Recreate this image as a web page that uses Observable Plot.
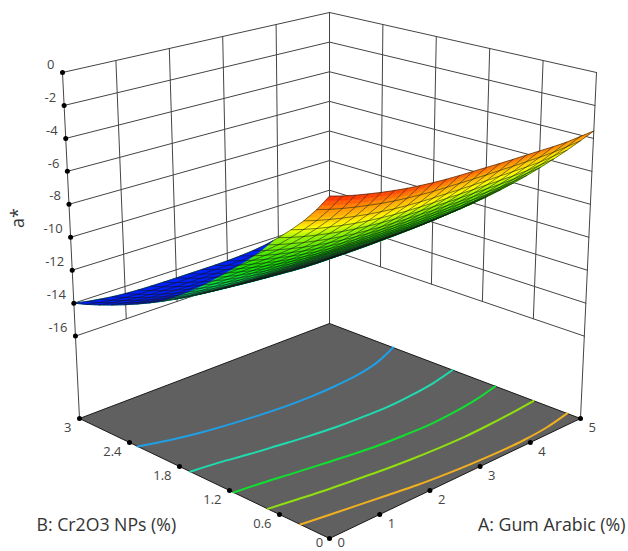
<!DOCTYPE html>
<html><head><meta charset="utf-8">
<script src="https://cdn.jsdelivr.net/npm/d3@7"></script>
<script src="https://cdn.jsdelivr.net/npm/@observablehq/plot@0.6"></script>
<style>html,body{margin:0;padding:0;background:#fff}svg{display:block}</style>
</head><body><div id="c"></div><script>
const aTicks=[0,1,2,3,4,5], bTicks=[0,0.6,1.2,1.8,2.4,3], zTicks=[0,-2,-4,-6,-8,-10,-12,-14,-16];
// a*: rows B = 0, 0.15 … 3; columns A = 0, 0.25 … 5
const zGrid=[
[-6.00,-5.99,-5.97,-5.95,-5.93,-5.90,-5.87,-5.83,-5.79,-5.73,-5.66,-5.57,-5.46,-5.32,-5.16,-4.97,-4.75,-4.50,-4.22,-3.90,-3.55],
[-6.50,-6.50,-6.49,-6.47,-6.46,-6.43,-6.40,-6.36,-6.33,-6.27,-6.20,-6.12,-6.01,-5.88,-5.72,-5.54,-5.32,-5.07,-4.78,-4.46,-4.09],
[-7.00,-7.01,-7.00,-6.99,-6.98,-6.96,-6.93,-6.90,-6.86,-6.81,-6.75,-6.66,-6.56,-6.43,-6.28,-6.10,-5.88,-5.63,-5.35,-5.01,-4.64],
[-7.45,-7.46,-7.47,-7.46,-7.46,-7.44,-7.41,-7.38,-7.35,-7.30,-7.24,-7.16,-7.06,-6.94,-6.79,-6.62,-6.40,-6.15,-5.86,-5.52,-5.13],
[-7.88,-7.90,-7.91,-7.91,-7.91,-7.90,-7.88,-7.85,-7.81,-7.77,-7.71,-7.64,-7.55,-7.43,-7.28,-7.11,-6.90,-6.65,-6.36,-6.01,-5.60],
[-8.32,-8.35,-8.37,-8.38,-8.38,-8.37,-8.35,-8.32,-8.29,-8.25,-8.19,-8.13,-8.04,-7.92,-7.79,-7.62,-7.40,-7.15,-6.86,-6.51,-6.08],
[-8.76,-8.80,-8.82,-8.84,-8.84,-8.83,-8.82,-8.79,-8.77,-8.72,-8.68,-8.61,-8.53,-8.42,-8.29,-8.12,-7.91,-7.66,-7.37,-7.00,-6.57],
[-9.20,-9.25,-9.28,-9.30,-9.31,-9.30,-9.29,-9.27,-9.24,-9.20,-9.16,-9.10,-9.02,-8.92,-8.79,-8.63,-8.42,-8.17,-7.87,-7.50,-7.05],
[-9.64,-9.69,-9.73,-9.76,-9.77,-9.77,-9.76,-9.74,-9.72,-9.68,-9.64,-9.59,-9.51,-9.41,-9.29,-9.13,-8.92,-8.67,-8.38,-8.00,-7.53],
[-10.08,-10.14,-10.19,-10.22,-10.24,-10.24,-10.23,-10.22,-10.19,-10.16,-10.12,-10.07,-10.00,-9.91,-9.79,-9.64,-9.43,-9.18,-8.88,-8.49,-8.01],
[-10.52,-10.59,-10.64,-10.68,-10.71,-10.71,-10.71,-10.69,-10.67,-10.64,-10.61,-10.56,-10.50,-10.41,-10.29,-10.14,-9.94,-9.69,-9.39,-8.99,-8.50],
[-10.96,-11.04,-11.10,-11.14,-11.17,-11.18,-11.18,-11.16,-11.15,-11.12,-11.09,-11.05,-10.99,-10.90,-10.79,-10.65,-10.44,-10.19,-9.89,-9.49,-8.98],
[-11.38,-11.47,-11.53,-11.58,-11.62,-11.63,-11.63,-11.62,-11.60,-11.58,-11.55,-11.51,-11.46,-11.38,-11.27,-11.13,-10.93,-10.68,-10.37,-9.96,-9.44],
[-11.78,-11.87,-11.95,-12.00,-12.04,-12.06,-12.06,-12.05,-12.04,-12.02,-11.99,-11.96,-11.91,-11.83,-11.73,-11.60,-11.39,-11.14,-10.84,-10.42,-9.88],
[-12.16,-12.26,-12.34,-12.40,-12.45,-12.47,-12.47,-12.47,-12.45,-12.44,-12.42,-12.39,-12.34,-12.27,-12.17,-12.04,-11.84,-11.59,-11.28,-10.86,-10.31],
[-12.52,-12.63,-12.72,-12.79,-12.83,-12.86,-12.86,-12.86,-12.85,-12.84,-12.82,-12.80,-12.75,-12.69,-12.60,-12.47,-12.27,-12.02,-11.71,-11.28,-10.71],
[-12.86,-12.98,-13.07,-13.15,-13.20,-13.22,-13.23,-13.23,-13.23,-13.21,-13.20,-13.18,-13.14,-13.08,-13.00,-12.87,-12.67,-12.42,-12.11,-11.67,-11.09],
[-13.18,-13.31,-13.41,-13.49,-13.54,-13.57,-13.59,-13.59,-13.58,-13.57,-13.56,-13.55,-13.52,-13.46,-13.38,-13.26,-13.06,-12.81,-12.50,-12.05,-11.45],
[-13.48,-13.61,-13.72,-13.81,-13.87,-13.90,-13.92,-13.92,-13.92,-13.91,-13.91,-13.90,-13.87,-13.82,-13.74,-13.62,-13.43,-13.18,-12.86,-12.41,-11.80],
[-13.76,-13.90,-14.02,-14.11,-14.17,-14.21,-14.23,-14.24,-14.23,-14.23,-14.23,-14.22,-14.20,-14.15,-14.08,-13.97,-13.77,-13.52,-13.21,-12.74,-12.12],
[-14.00,-14.15,-14.27,-14.37,-14.44,-14.48,-14.50,-14.51,-14.51,-14.51,-14.51,-14.51,-14.49,-14.45,-14.38,-14.27,-14.08,-13.83,-13.51,-13.04,-12.40]
];
// surface shade (0 blue … 1 red), same rows and columns
const cGrid=[
[.25,.27,.29,.31,.33,.35,.37,.39,.41,.43,.45,.47,.48,.50,.52,.55,.58,.63,.69,.76,.86],
[.25,.27,.29,.31,.33,.35,.37,.39,.41,.43,.45,.47,.48,.50,.52,.55,.58,.63,.69,.77,.87],
[.25,.27,.29,.31,.33,.35,.37,.39,.41,.43,.45,.47,.48,.50,.52,.55,.58,.63,.70,.77,.87],
[.25,.27,.29,.31,.33,.35,.37,.39,.41,.43,.45,.47,.48,.50,.52,.55,.58,.64,.70,.78,.88],
[.25,.27,.29,.31,.33,.35,.37,.39,.41,.43,.45,.47,.48,.50,.52,.55,.58,.64,.71,.78,.89],
[.25,.27,.29,.31,.33,.35,.37,.39,.41,.43,.45,.47,.48,.50,.52,.55,.58,.64,.71,.79,.90],
[.25,.27,.29,.31,.33,.35,.37,.39,.41,.43,.45,.47,.48,.50,.52,.55,.58,.64,.71,.79,.90],
[.25,.27,.29,.31,.33,.35,.37,.39,.41,.43,.45,.47,.48,.50,.52,.55,.58,.64,.72,.80,.91],
[.25,.27,.29,.31,.33,.35,.37,.39,.41,.43,.45,.47,.48,.50,.52,.55,.58,.65,.72,.80,.92],
[.25,.27,.29,.31,.33,.35,.37,.39,.41,.43,.45,.47,.48,.50,.52,.55,.58,.65,.73,.81,.92],
[.25,.27,.29,.31,.33,.35,.37,.39,.41,.43,.45,.47,.48,.50,.52,.55,.58,.65,.73,.81,.93],
[.25,.27,.29,.31,.33,.35,.37,.39,.41,.43,.45,.47,.48,.50,.52,.55,.58,.65,.73,.82,.94],
[.25,.27,.29,.31,.33,.35,.37,.39,.41,.43,.45,.47,.48,.50,.52,.55,.58,.65,.74,.82,.94],
[.25,.27,.29,.31,.33,.35,.37,.39,.41,.43,.45,.47,.48,.50,.52,.55,.58,.66,.74,.83,.95],
[.25,.27,.29,.31,.33,.35,.37,.39,.41,.43,.45,.47,.48,.50,.52,.55,.58,.66,.75,.83,.96],
[.25,.27,.29,.31,.33,.35,.37,.39,.41,.43,.45,.47,.48,.50,.52,.55,.58,.66,.75,.84,.97],
[.25,.27,.29,.31,.33,.35,.37,.39,.41,.43,.45,.47,.48,.50,.52,.55,.58,.66,.75,.84,.97],
[.25,.27,.29,.31,.33,.35,.37,.39,.41,.43,.45,.47,.48,.50,.52,.55,.58,.66,.76,.85,.98],
[.25,.27,.29,.31,.33,.35,.37,.39,.41,.43,.45,.47,.48,.50,.52,.55,.58,.67,.76,.85,.99],
[.25,.27,.29,.31,.33,.35,.37,.39,.41,.43,.45,.47,.48,.50,.52,.55,.58,.67,.77,.86,.99],
[.25,.27,.29,.31,.33,.35,.37,.39,.41,.43,.45,.47,.48,.50,.52,.55,.58,.67,.77,.86,1]
];
// edge of the blue patch
const blueA=[0,.5,1,1.5,2,2.5,3,3.5,3.9];
const blueB=[2.00,2.13,2.26,2.38,2.51,2.64,2.77,2.90,3.00];
// floor contours: B read at A = 0, 0.5 … 5
const contourA=[0,.5,1,1.5,2,2.5,3,3.5,4,4.5,5];
const contourColors=["#1f9fe6","#1fdcb0","#10e030","#90e010","#f0b020"];
const contourB=[
[2.30,2.21,2.14,2.09,2.05,2.02,2.01,2.02,2.05,2.12,2.24],
[1.67,1.63,1.57,1.52,1.47,1.43,1.41,1.40,1.42,1.46,1.53],
[1.15,1.11,1.06,1.01,.96,.92,.90,.89,.91,.95,1.02],
[.74,.69,.64,.60,.56,.53,.51,.50,.51,.53,.56],
[.35,.30,.25,.20,.15,.115,.09,.075,.075,.10,.16]
];
const corners={f0:[329,538],r0:[580,418],l0:[79,418],b0:[329,323],f1:[329,145],r1:[596,72],l1:[62,72],b1:[329,12]};
function P(A,B,z){const a=A/5,b=B/3,h=(z+21)/21;
 const bl=(n)=>{const F=corners["f"+n],R=corners["r"+n],L=corners["l"+n],K=corners["b"+n];
  return [0,1].map(k=>F[k]*(1-a)*(1-b)+R[k]*a*(1-b)+L[k]*(1-a)*b+K[k]*a*b)};
 const p=bl(0),q=bl(1);return [p[0]+(q[0]-p[0])*h,p[1]+(q[1]-p[1])*h];}
const row=(A,B,z,g)=>{const p=P(A,B,z);return {x:p[0],y:p[1],g}};
const wall=[];let gid=0;
for(const z of zTicks){wall.push(row(0,3,z,gid),row(5,3,z,gid));gid++;wall.push(row(5,3,z,gid),row(5,0,z,gid));gid++;}
for(const A of aTicks){wall.push(row(A,3,0,gid),row(A,3,-16,gid));gid++;}
for(const B of bTicks){wall.push(row(5,B,0,gid),row(5,B,-16,gid));gid++;}
for(const q of [[0,3],[5,3],[5,0]]){wall.push(row(q[0],q[1],-16,gid),row(q[0],q[1],-21,gid));gid++;}
const floor=[[0,0],[5,0],[5,3],[0,3],[0,0]].map(q=>row(q[0],q[1],-21,0));
const cont=[];contourB.forEach((bs,k)=>bs.forEach((b,n)=>{const r=row(contourA[n],b,-21,k);r.c=contourColors[k];cont.push(r)}));
const N=3,sub=[],mesh=[];let sid=0;
const w4=(u,v)=>[(1-u)*(1-v),u*(1-v),(1-u)*v,u*v];
const bil=(G,i,j,u,v)=>{const w=w4(u,v);return G[j][i]*w[0]+G[j][i+1]*w[1]+G[j+1][i]*w[2]+G[j+1][i+1]*w[3]};
const zAt=(A,B)=>{const i=Math.min(19,Math.floor(A*4)),j=Math.min(19,Math.floor(B/.15));return bil(zGrid,i,j,A*4-i,B/.15-j)};
for(let i=19;i>=0;i--)for(let j=19;j>=0;j--)for(let m=0;m<N;m++)for(let n=0;n<N;n++){
 const u0=m/N,u1=(m+1)/N,v0=n/N,v1=(n+1)/N,c=bil(cGrid,i,j,(u0+u1)/2,(v0+v1)/2);
 for(const [u,v] of [[u0,v0],[u1,v0],[u1,v1],[u0,v1],[u0,v0]]){
  const r=row((i+u)/4,(j+v)*.15,bil(zGrid,i,j,u,v),sid);r.c=c;sub.push(r);}
 sid++;}
const bluePatch=[];
blueA.forEach((a,k)=>bluePatch.push(row(a,blueB[k],zAt(a,blueB[k]),0)));
for(let i=15;i>=0;i--)bluePatch.push(row(i/4,3,zGrid[20][i],0));
for(let j=19;j>=14;j--)bluePatch.push(row(0,j*.15,zGrid[j][0],0));
let mid=0;
for(let i=0;i<=20;i++){for(let j=0;j<=20;j++)mesh.push(row(i/4,j*.15,zGrid[j][i],mid));mid++;}
for(let j=0;j<=20;j++){for(let i=0;i<=20;i++)mesh.push(row(i/4,j*.15,zGrid[j][i],mid));mid++;}
const lab=(arr,f)=>arr.map(v=>{const q=f(v);const r=row(q[0],q[1],q[2],0);r.t=String(v);return r});
const zl=lab(zTicks,z=>[0,3,z]), bl=lab(bTicks.slice(1),b=>[0,b,-21]), al=lab(aTicks,a=>[a,0,-21]), b0=lab([0],b=>[0,b,-21]);
const chart=Plot.plot({width:628,height:551,margin:0,x:{domain:[0,628],axis:null},y:{domain:[551,0],axis:null},
 color:{type:"linear",domain:[.25,.45,.68,.85,1],range:["#00e8a8","#10e000","#ffff00","#ff9000","#ff2000"]},
 style:{fontFamily:'"Open Sans"',background:"#fff",overflow:"visible"},
 marks:[
  Plot.line(wall,{x:"x",y:"y",z:"g",stroke:"#444",strokeWidth:1}),
  Plot.line(floor,{x:"x",y:"y",fill:"#606060",stroke:"#1a1a1a",strokeWidth:1}),
  Plot.line(cont,{x:"x",y:"y",z:"g",stroke:d=>d.c,strokeWidth:2,curve:"catmull-rom"}),
  Plot.line(sub,{x:"x",y:"y",z:"g",fill:"c",stroke:"c",strokeWidth:.5}),
  Plot.line(bluePatch,{x:"x",y:"y",fill:"#0020f8",stroke:"#0020f8",strokeWidth:.5}),
  Plot.line(mesh,{x:"x",y:"y",z:"g",stroke:"#151515",strokeWidth:.55}),
  Plot.dot(zl.concat(bl,al),{x:"x",y:"y",r:2.5,fill:"#000"}),
  Plot.text(zl,{x:"x",y:"y",text:"t",dx:-8,dy:-8,textAnchor:"end",fontSize:13,fill:"#444"}),
  Plot.text(bl,{x:"x",y:"y",text:"t",dx:-8,dy:9,textAnchor:"end",fontSize:13,fill:"#444"}),
  Plot.text(b0,{x:"x",y:"y",text:"t",dx:-10,dy:4.5,fontSize:13,fill:"#444"}),
  Plot.text(al.slice(1),{x:"x",y:"y",text:"t",dx:8,dy:9,textAnchor:"start",fontSize:13,fill:"#444"}),
  Plot.text(al.slice(0,1),{x:"x",y:"y",text:"t",dx:8,dy:4.5,textAnchor:"start",fontSize:13,fill:"#444"}),
  Plot.text(["a*"],{frameAnchor:"left",textAnchor:"middle",dx:18,dy:-58,rotate:-90,fontSize:18,fill:"#333"}),
  Plot.text(["B: Cr2O3 NPs (%)"],{frameAnchor:"bottom-left",dx:36,dy:-21,fontSize:17.7,fill:"#333"}),
  Plot.text(["A: Gum Arabic (%)"],{frameAnchor:"bottom-right",dx:-3,dy:-21,fontSize:17.8,fill:"#333"})
 ]});
document.getElementById("c").appendChild(chart);
</script></body></html>
